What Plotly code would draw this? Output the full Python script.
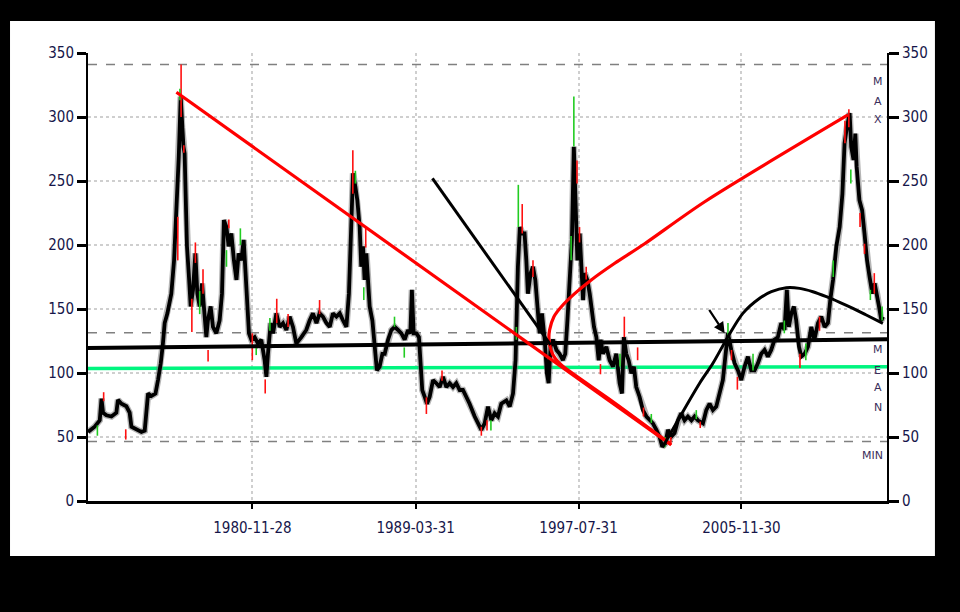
import plotly.graph_objects as go

# ---------------- data (decimal years, values) ----------------
price_years = [
    1972.50, 1972.84, 1973.10, 1973.19, 1973.27, 1973.44, 1973.70, 1973.95, 1974.03, 1974.21,
    1974.46, 1974.63, 1974.72, 1974.97, 1975.23, 1975.40, 1975.57, 1975.74, 1975.95, 1976.08,
    1976.22, 1976.33, 1976.42, 1976.56, 1976.76, 1976.90, 1977.02, 1977.14, 1977.24, 1977.31,
    1977.38, 1977.44, 1977.49, 1977.56, 1977.65, 1977.75, 1977.87, 1977.99, 1978.09, 1978.21,
    1978.33, 1978.43, 1978.55, 1978.63, 1978.77, 1978.89, 1979.06, 1979.23, 1979.35, 1979.45,
    1979.58, 1979.69, 1979.83, 1979.96, 1980.09, 1980.20, 1980.34, 1980.46, 1980.56, 1980.65,
    1980.73, 1980.85, 1981.02, 1981.19, 1981.36, 1981.53, 1981.62, 1981.70, 1981.84, 1981.96,
    1982.13, 1982.30, 1982.47, 1982.64, 1982.81, 1982.98, 1983.15, 1983.41, 1983.66, 1983.83,
    1984.00, 1984.18, 1984.34, 1984.51, 1984.69, 1984.86, 1985.02, 1985.20, 1985.37, 1985.54,
    1985.71, 1985.84, 1985.97, 1986.05, 1986.17, 1986.27, 1986.39, 1986.47, 1986.56, 1986.64,
    1986.73, 1986.81, 1986.90, 1987.04, 1987.16, 1987.27, 1987.41, 1987.55, 1987.67, 1987.84,
    1988.01, 1988.18, 1988.35, 1988.52, 1988.69, 1988.86, 1988.98, 1989.06, 1989.15, 1989.29,
    1989.42, 1989.51, 1989.59, 1989.71, 1989.83, 1989.97, 1990.14, 1990.31, 1990.48, 1990.65,
    1990.82, 1990.99, 1991.16, 1991.33, 1991.50, 1991.67, 1991.84, 1992.01, 1992.27, 1992.44,
    1992.61, 1992.78, 1992.95, 1993.12, 1993.29, 1993.46, 1993.63, 1993.89, 1994.06, 1994.23,
    1994.36, 1994.48, 1994.58, 1994.71, 1994.82, 1994.91, 1994.99, 1995.13, 1995.25, 1995.37,
    1995.47, 1995.59, 1995.71, 1995.85, 1995.96, 1996.05, 1996.15, 1996.27, 1996.45, 1996.61,
    1996.78, 1996.90, 1997.01, 1997.12, 1997.24, 1997.34, 1997.42, 1997.52, 1997.64, 1997.73,
    1997.81, 1997.90, 1998.03, 1998.15, 1998.26, 1998.37, 1998.49, 1998.61, 1998.71, 1998.83,
    1999.00, 1999.17, 1999.34, 1999.51, 1999.68, 1999.80, 1999.90, 2000.02, 2000.14, 2000.28,
    2000.41, 2000.53, 2000.70, 2000.87, 2001.05, 2001.21, 2001.38, 2001.56, 2001.72, 2001.86,
    2002.02, 2002.15, 2002.32, 2002.49, 2002.66, 2002.83, 2003.00, 2003.17, 2003.35, 2003.51,
    2003.68, 2003.94, 2004.11, 2004.28, 2004.45, 2004.62, 2004.79, 2004.96, 2005.10, 2005.22,
    2005.39, 2005.56, 2005.73, 2005.90, 2006.07, 2006.24, 2006.41, 2006.58, 2006.75, 2006.92,
    2007.09, 2007.26, 2007.43, 2007.60, 2007.77, 2007.94, 2008.11, 2008.23, 2008.33, 2008.46,
    2008.59, 2008.71, 2008.85, 2008.97, 2009.14, 2009.31, 2009.48, 2009.64, 2009.82, 2009.99,
    2010.16, 2010.33, 2010.45, 2010.59, 2010.76, 2010.93, 2011.07, 2011.18, 2011.30, 2011.44,
    2011.52, 2011.64, 2011.73, 2011.80, 2011.94, 2012.08, 2012.20, 2012.33, 2012.46, 2012.60,
    2012.72, 2012.84, 2012.94, 2013.06, 2013.14,
]
price_values = [
    54, 58, 63, 80, 69, 67, 66, 69, 79, 76,
    74, 69, 58, 56, 54, 55, 84, 82, 84, 94.5,
    107.6, 123, 139, 146.6, 162, 188, 225, 269, 316, 292,
    277, 271.6, 240, 199, 178, 152, 165, 193.5, 162, 152,
    170, 146.6, 128, 141, 152, 136, 131, 141, 162, 219.5,
    214, 199, 209, 188, 172.7, 193.5, 188, 204, 175, 141,
    131, 126, 128, 123, 126, 110, 97, 115, 139, 131,
    146.6, 136, 139, 133.6, 144, 136, 123, 128, 133.6, 141,
    146.6, 139, 146.6, 144, 139, 136, 146.6, 144, 146.6, 141,
    136, 162, 232.6, 256, 245.5, 235, 214, 183, 199, 172.7,
    193.5, 175, 152, 141, 123, 102, 105, 115, 115, 126,
    133.6, 136, 133.6, 131, 126, 133.6, 131, 165, 131, 131,
    128, 105, 86.7, 81.5, 76, 81.5, 94.5, 92, 89, 97,
    89, 92, 89, 92, 86.7, 86.7, 81.5, 76, 66, 60.7,
    55.5, 60.7, 73.7, 63, 68.5, 66, 76, 78.6, 73.7, 84,
    110, 183, 214, 209, 209, 188, 162, 178, 183, 172.7,
    152, 131, 146.6, 126, 99.7, 92, 120.5, 126, 118, 115,
    110, 115, 141, 178, 204, 276.8, 245.5, 188, 209, 183,
    157, 178, 172.7, 162, 146.6, 136, 128, 110, 126, 115,
    120.5, 110, 105, 115, 92, 84, 128, 115, 110, 99.7,
    105, 89, 81.5, 71, 66, 63, 60.7, 55.5, 50.2, 42.4,
    45, 55.5, 50.2, 53, 63, 68.5, 63, 66, 63, 66,
    63, 60.7, 71, 76, 71, 73.7, 84, 94.5, 115, 131,
    118, 107.6, 102, 94.5, 105, 112.8, 102, 102, 107.6, 115,
    118, 112.8, 118, 126, 128, 139, 133.6, 165, 136, 146.6,
    152, 141, 120.5, 112.8, 115, 120.5, 136, 126, 139, 144,
    136, 139, 157, 172.7, 199, 214, 240, 279.5, 292, 303,
    276.8, 266.4, 287, 261, 235, 227, 209, 188, 175, 162,
    170, 162, 152, 141, 144,
]

# high/low wicks (year, low, high, colour)
wick_years = [1977.26, 1977.20, 1977.40, 1977.09, 1977.99, 1977.81, 1978.38, 1978.21, 1978.64,
              1979.70, 1980.29, 1979.58, 1980.90, 1981.10, 1981.56, 1982.15, 1981.80, 1982.73,
              1973.30, 1972.98, 1974.43, 1986.04, 1986.17, 1986.70, 1986.60, 1984.34, 1988.67,
              1988.17, 1989.80, 1990.60, 1992.61, 1992.90, 1993.10, 1994.50, 1994.70, 1995.25,
              1994.40, 1997.34, 1997.50, 1997.63, 1997.20, 1997.97, 1999.92, 2000.60, 1999.70,
              1998.70, 2001.30, 2000.90, 2002.00, 2002.30, 2003.60, 2005.22, 2005.40, 2005.70,
              2006.50, 2003.80, 2008.10, 2008.90, 2009.20, 2009.90, 2010.60, 2011.20, 2011.40,
              2011.50, 2011.97, 2012.20, 2012.70, 2012.50, 2013.10]
wick_low = [300, 313, 272, 188, 186, 132, 162, 146, 109,
            213, 200, 183, 110, 114, 84, 139, 133, 136,
            78, 51, 48, 240, 248, 198, 157, 146, 112,
            136, 68, 94, 51, 55, 55, 214, 209, 175,
            126, 277, 248, 202, 188, 173, 128, 110, 105,
            99, 61, 66, 42, 44, 64, 126, 110, 87,
            102, 57, 131, 104, 110, 133, 175, 279.5, 292,
            248, 214, 193, 162, 157, 141]
wick_high = [341, 322, 278, 222, 202, 158, 181, 164, 118,
             220, 213, 196, 131, 120, 95, 158, 143, 146,
             85, 59, 56, 274, 258, 214, 167, 157, 120,
             144, 81, 102, 58, 63, 63, 247, 232, 188,
             136, 316, 266, 214, 207, 183, 144, 120, 115,
             107, 68, 73, 50, 50, 71, 139, 118, 97,
             115, 62, 141, 115, 123, 144, 188, 297, 306,
             259, 225, 201, 178, 165, 152]
wick_colors = ["r", "g", "r", "r", "r", "r", "r", "g", "r",
               "r", "g", "g", "r", "g", "r", "r", "g", "r",
               "r", "g", "r", "r", "g", "r", "g", "r", "g",
               "g", "r", "r", "r", "r", "g", "g", "r", "r",
               "g", "g", "r", "r", "g", "r", "r", "r", "g",
               "r", "g", "r", "g", "r", "g", "g", "r", "r",
               "g", "r", "g", "r", "g", "r", "g", "r", "r",
               "g", "r", "r", "r", "g", "g"]

# reference levels
max_level = 341
upper_level = 131.5
min_level = 46.5
mean_trend_years = [1972.5, 2013.35]
mean_trend_values = [119.5, 126.3]
green_years = [1972.5, 2013.45]
green_values = [103.6, 104.9]

# hand-drawn annotation lines
red_line_years = [1977.02, 2002.32]
red_line_values = [319.3, 43.7]
red_curve_years = [2002.24, 1999.43, 1996.70, 1996.38, 1996.17, 1996.07, 1996.10, 1996.32,
                   1996.70, 1997.38, 1998.23, 1999.43, 2000.96, 2004.03, 2011.35]
red_curve_values = [45.1, 76.6, 106.2, 111.5, 118, 125.8, 133.6, 144,
                    151.8, 162, 172.7, 185.7, 201, 233.8, 301.6]
black_line_years = [1990.11, 1996.15]
black_line_values = [252, 121.9]
black_arc_years = [2001.89, 2003.77, 2004.45, 2005.22, 2005.98, 2006.84, 2007.44, 2008.20,
                   2008.88, 2009.56, 2010.25, 2010.93, 2011.61, 2012.29, 2013.14]
black_arc_values = [42.4, 92, 107.6, 128.4, 146.6, 158.4, 163.5, 166.6,
                    166.1, 163.5, 159.6, 155.2, 150.5, 145.3, 138.8]
arrow_tail = (2004.21, 150.5)
arrow_tip = (2005.05, 131)

x_tick_vals = [1980.91, 1989.25, 1997.58, 2005.91]
x_tick_text = ["1980-11-28", "1989-03-31", "1997-07-31", "2005-11-30"]
y_ticks = [0, 50, 100, 150, 200, 250, 300, 350]

x_range = [1972.5, 2013.35]
y_range = [0, 350]

# ---------------- figure ----------------
fig = go.Figure()

GRAY_DASH = "#808080"
for lvl in [max_level, upper_level, min_level]:
    fig.add_trace(go.Scatter(x=x_range, y=[lvl, lvl], mode="lines",
                             line=dict(color=GRAY_DASH, width=1.6, dash="dash"),
                             hoverinfo="skip"))

# green level
fig.add_trace(go.Scatter(x=green_years, y=green_values, mode="lines",
                         line=dict(color="#00F57F", width=3.5), cliponaxis=False,
                         hoverinfo="skip"))

# price halo + price
fig.add_trace(go.Scatter(x=price_years, y=price_values, mode="lines",
                         line=dict(color="rgba(120,120,120,0.55)", width=6.5),
                         hoverinfo="skip"))
fig.add_trace(go.Scatter(x=price_years, y=price_values, mode="lines",
                         line=dict(color="black", width=3.8)))

# wicks
for code, col in [("r", "#FF1010"), ("g", "#22CC22")]:
    xs, ys = [], []
    for yr, lo, hi, c in zip(wick_years, wick_low, wick_high, wick_colors):
        if c == code:
            xs += [yr, yr, None]
            ys += [lo, hi, None]
    fig.add_trace(go.Scatter(x=xs, y=ys, mode="lines", line=dict(color=col, width=1.6),
                             hoverinfo="skip"))

# black mean trend
fig.add_trace(go.Scatter(x=mean_trend_years, y=mean_trend_values, mode="lines",
                         line=dict(color="black", width=4), hoverinfo="skip"))

# red annotation lines
fig.add_trace(go.Scatter(x=red_line_years, y=red_line_values, mode="lines",
                         line=dict(color="#FF0000", width=3.2), hoverinfo="skip"))
fig.add_trace(go.Scatter(x=red_curve_years, y=red_curve_values, mode="lines",
                         line=dict(color="#FF0000", width=3.2, shape="spline", smoothing=0.8),
                         hoverinfo="skip"))
# black annotation lines
fig.add_trace(go.Scatter(x=black_line_years, y=black_line_values, mode="lines",
                         line=dict(color="black", width=3), hoverinfo="skip"))
fig.add_trace(go.Scatter(x=black_arc_years, y=black_arc_values, mode="lines",
                         line=dict(color="black", width=3, shape="spline", smoothing=0.8),
                         hoverinfo="skip"))

# dummy trace for right axis
fig.add_trace(go.Scatter(x=[x_range[0]], y=[0], yaxis="y2", mode="markers",
                         marker=dict(opacity=0), hoverinfo="skip"))

LABEL_FONT = dict(family="Liberation Sans Narrow, DejaVu Sans Condensed, Arial Narrow, Liberation Sans, sans-serif",
                  size=15, color="#16164a")

annotations = [
    dict(x=arrow_tip[0], y=arrow_tip[1], ax=arrow_tail[0], ay=arrow_tail[1],
         xref="x", yref="y", axref="x", ayref="y", showarrow=True,
         arrowhead=2, arrowwidth=2.2, arrowsize=1, arrowcolor="black", text=""),
]
letter_font = dict(family="DejaVu Sans, sans-serif", size=11, color="#3a2d5a")
for ch, yv in zip("MAX", [328, 312.5, 298.4]):
    annotations.append(dict(x=2012.87, y=yv, xref="x", yref="y", text=ch,
                            showarrow=False, font=letter_font))
for ch, yv in zip("MEAN", [118.75, 102.3, 88.3, 73.4]):
    annotations.append(dict(x=2012.87, y=yv, xref="x", yref="y", text=ch,
                            showarrow=False, font=letter_font))
annotations.append(dict(x=2012.62, y=35.2, xref="x", yref="y", text="MIN",
                        showarrow=False, font=letter_font))

fig.update_layout(
    width=960, height=612,
    margin=dict(l=88, r=73, t=53, b=111),
    paper_bgcolor="black",
    plot_bgcolor="white",
    showlegend=False,
    annotations=annotations,
    shapes=[dict(type="rect", xref="paper", yref="paper",
                 x0=-0.0976, x1=1.060, y0=-0.1228, y1=1.0714,
                 fillcolor="white", line=dict(width=0), layer="below")],
    xaxis=dict(range=x_range, tickmode="array", tickvals=x_tick_vals, ticktext=x_tick_text,
               showgrid=True, gridcolor="#cfcfcf", gridwidth=1.5, griddash="dot",
               showline=True, linecolor="black", linewidth=2.5,
               ticks="outside", ticklen=5, tickwidth=2, tickcolor="black",
               tickfont=LABEL_FONT, zeroline=False, ticklabelstandoff=6),
    yaxis=dict(range=y_range, tickmode="array", tickvals=y_ticks,
               showgrid=True, gridcolor="#cfcfcf", gridwidth=1.5, griddash="dot",
               showline=True, linecolor="black", linewidth=2,
               ticks="outside", ticklen=9, tickwidth=2.5, tickcolor="black",
               tickfont=LABEL_FONT, zeroline=False),
    yaxis2=dict(range=y_range, tickmode="array", tickvals=y_ticks, overlaying="y", side="right",
                showgrid=False, showline=True, linecolor="black", linewidth=2,
                ticks="outside", ticklen=10, tickwidth=2.5, tickcolor="black",
                tickfont=LABEL_FONT, zeroline=False),
)

fig.write_html(
    "out.html",
    config={"displayModeBar": False},
    post_script="document.body.style.margin='0';document.body.style.padding='0';"
                "document.body.style.background='black';"
                "document.body.style.overflow='hidden';",
)
